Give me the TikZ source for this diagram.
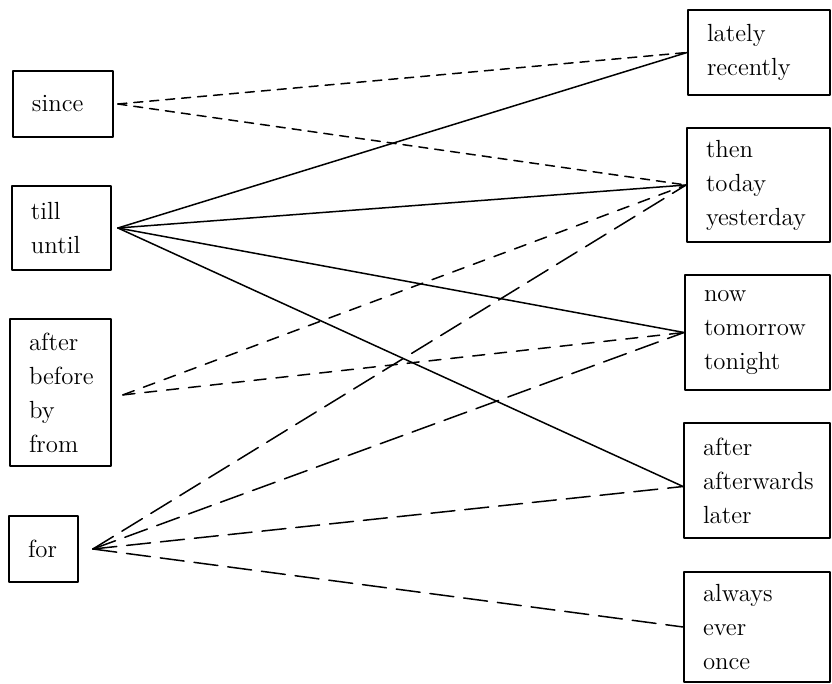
\documentclass[tikz,border=0pt]{standalone}
\usetikzlibrary{calc}

\begin{document}
\begin{tikzpicture}
  [
    x=.5pt, y=-.5pt,
    line cap=round, line join=round,
    wordbox/.style={draw, line width=.9pt, inner xsep=9.5pt, inner ysep=2pt,
      align=left, font=\fontsize{12.4}{17}\selectfont},
    link/.style={line width=.75pt},
    shortdash/.style={link, dash pattern=on 4.5pt off 3.5pt},
    middash/.style={link, dash pattern=on 6pt off 5pt},
    longdash/.style={link, dash pattern=on 12pt off 5pt},
  ]
\useasboundingbox (0,0) rectangle (832,684);

% left column
\node[wordbox, text width=31pt, minimum height=33pt] (since) at (63,104) {since};
\node[wordbox, text width=30.5pt, minimum height=42pt] (till) at (61.5,228) {till\\until};
\node[wordbox, text width=31.5pt, minimum height=73.5pt] (afterg) at (60.5,392.5) {after\\before\\by\\from};
\node[wordbox, text width=15.5pt, minimum height=33pt] (for) at (43.5,549) {for};

% right column
\node[wordbox, text width=52pt, minimum height=42.5pt] (lately) at (759,52.5) {lately\\recently};
\node[wordbox, text width=52.5pt, minimum height=57pt] (then) at (758.5,185) {then\\today\\yesterday};
\node[wordbox, text width=53.5pt, minimum height=57.5pt] (now) at (757.5,332.5) {now\\tomorrow\\tonight};
\node[wordbox, text width=54pt, minimum height=57.5pt] (afterw) at (757,480.5) {after\\afterwards\\later};
\node[wordbox, text width=54pt, minimum height=55pt] (always) at (757,627) {always\\ever\\once};

% where the lines meet
\coordinate (sinceP) at ([xshift=2pt]since.east);
\coordinate (tillP) at ([xshift=3pt]till.east);
\coordinate (afterP) at ([xshift=5.5pt,yshift=-1.2pt]afterg.east);
\coordinate (forP) at ([xshift=7pt]for.east);

\draw[shortdash] (sinceP) -- (lately.west);
\draw[shortdash] (sinceP) -- (then.west);

\foreach \t in {lately,then,now}
  \draw[link] (tillP) -- (\t.west);
\draw[link] (tillP) -- ([yshift=-3pt]afterw.west);

\draw[middash] (afterP) -- (then.west);
\draw[middash] (afterP) -- (now.west);

\draw[longdash] (forP) -- (then.west);
\draw[longdash] (forP) -- (now.west);
\draw[longdash] (forP) -- ([yshift=-3pt]afterw.west);
\draw[longdash] (forP) -- (always.west);

\end{tikzpicture}
\end{document}
